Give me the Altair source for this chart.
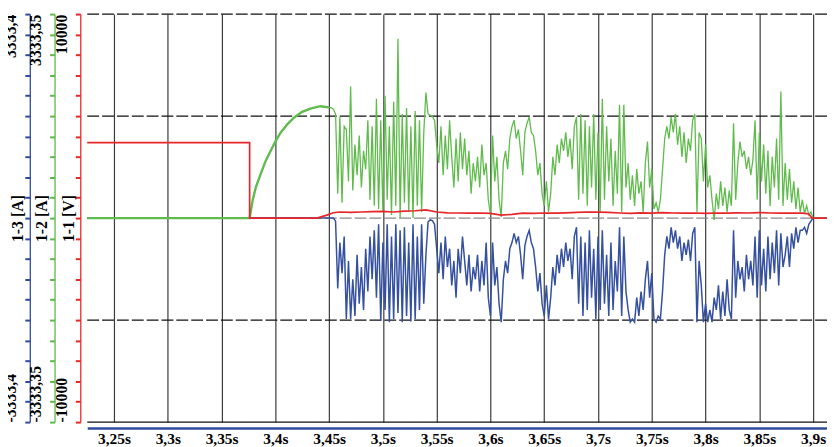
import altair as alt
import pandas as pd

SERIF = "Liberation Serif"
BLUE = "#34509f"
GREEN = "#5fbb4b"
RED = "#e8262a"
BLUE_AXIS = "#2f4a9c"
GREEN_AXIS = "#5cb84a"
RED_AXIS = "#e82828"

# ---- axes ----
X_DOMAIN = [3.2251, 3.9129]
X_TICKS = [3.25, 3.3, 3.35, 3.4, 3.45, 3.5, 3.55, 3.6, 3.65, 3.7, 3.75, 3.8, 3.85, 3.9]

RED_RANGE = 10000.0      # 1-1 [V]
GREEN_RANGE = 3333.35    # 1-2 [A]
BLUE_RANGE = 3333.4      # 1-3 [A]

DASHED_LEVELS = [10000, 5000, -5000]
CENTER_LEVELS = [0]
SOLID_LEVELS = [-10000]

# ---- 1-1 [V] (red) ----
RED_T = [3.2251, 3.3761, 3.3761, 3.4387, 3.4479, 3.454, 3.46, 3.47, 3.48, 3.49,
         3.50, 3.51, 3.52, 3.53, 3.54, 3.55, 3.56, 3.57, 3.58, 3.59,
         3.60, 3.61, 3.62, 3.63, 3.64, 3.65, 3.66, 3.67, 3.68, 3.69,
         3.70, 3.71, 3.72, 3.73, 3.74, 3.75, 3.76, 3.77, 3.78, 3.79,
         3.80, 3.81, 3.82, 3.83, 3.84, 3.85, 3.86, 3.87, 3.88, 3.89,
         3.896, 3.899, 3.9129]
RED_V = [3700, 3700, 0, 0, 145, 260, 300, 280, 300, 320,
         330, 300, 340, 360, 400, 300, 260, 250, 240, 250,
         230, 150, 180, 240, 230, 250, 240, 260, 280, 300,
         290, 280, 250, 230, 260, 240, 270, 250, 240, 250,
         230, 250, 240, 260, 250, 270, 250, 240, 250, 240,
         200, 0, 0]

# ---- 1-2 [A] (green) : charge curve ----
GREEN_RISE_T = [3.2251, 3.3761, 3.3789, 3.3819, 3.3865, 3.3911, 3.3957, 3.4003,
                3.4049, 3.4111, 3.4173, 3.4249, 3.4326, 3.4418, 3.45]
GREEN_RISE_V = [0, 0, 291, 506, 728, 938, 1100, 1262,
                1396, 1532, 1640, 1737, 1790, 1828, 1810]

# ---- sampled part, start 3.45 s, one sample every 2 ms ----
NOISY_T0 = 3.45
NOISY_DT = 0.002
GREEN_NOISY_V = [
    1810, 1800, 1780, 1700,
    400, 1650, 250, 1500,
    1450, 600, 2150, 450, 1200, 700, 1350, 500, 1100, 800,
    1600, 300, 1500, 200,
    1950, 150, 1600, 100, 2000, 300, 1500, 50, 1900, 200,
    2930, 0, 1700, 250, 1800, 100, 1500, 0, 1750, 200, 1600, 100, 1400,
    2050, 1700, 1680, 1660, 1600, 1200,
    900, 1500, 700, 1350, 800, 1600,
    1000, 500, 1300, 600, 1400, 800, 1300, 700, 1100, 400,
    900, 600, 1000, 500, 1200, 700, 900, 300, 50, 1350,
    600, 1000, 300, 20,
    900, 1100, 800, 1300, 1500, 1600, 1300, 1450, 1100, 700, 1400, 1550, 1650, 1400, 1350,
    1100, 700, 900, 400, 200, 600, 100,
    400, 1000, 700, 1200, 900, 1300, 1100, 1400, 1000, 1300, 800, 1500, 1650,
    300, 1700, 400, 1600, 200, 1500, 500, 1700, 300, 1400, 100, 1950, 300, 1500, 600,
    1300, 200, 1100, 400, 1850, 100, 1850, 500,
    900, 300, 700, 200, 800, 400, 600, 100, 900, 1250, 500, 800,
    150, 250, 100, 300,
    800, 1300, 1500, 1300, 1650, 1400, 1700,
    1200, 1500, 1000, 1400, 900, 1300, 1100, 1600, 1700, 100, 1400,
    1300, 600, 1200, 500, 700, 300, -30,
    400, 150, 600, 200, 500, 100, 450, 200,
    1550, 300,
    900, 1250, 1000, 1100, 800, 1000, 700, 950, 1600,
    300, 1400, 600, 1200, 400, 1100, 200, 1000, 500, 1300, 300, 2070, 200,
    900, 300, 800, 250, 600, 150, 500, 100,
    300, 80, 200, 50, 100, 0,
    0, 0, 0, 0, 0, 0,
]

# ---- 1-3 [A] (blue) ----
BLUE_PRE_T = [3.2251, 3.44]
BLUE_PRE_V = [0, 0]
BLUE_NOISY_V = [
    0, 0, 0, -50,
    -1150, -400, -900, -300,
    -1650, -700, -1650, -1000, -1600, -600, -1400, -800, -1500, -500,
    -1200, -300, -1000, -200,
    -1300, -100, -1680, -400, -1500, -100, -1700, -300, -1650, -100,
    -1550, -200, -1700, -150, -1600, -400, -1690, -100, -1650, -300, -1500, -100, -1400,
    -600, -60, -30, -40, -100, -500,
    -900, -400, -1000, -300, -800, -500,
    -1100, -700, -1300, -500, -900, -300, -700, -1100, -600, -1200,
    -800, -1000, -600, -1200, -700, -1100, -400, -1300, -1600, -400,
    -1100, -800, -1400, -1700,
    -1000, -700, -900, -500, -400, -250, -400, -300, -600, -1000, -450, -300, -200, -400, -500,
    -800, -1200, -900, -1400, -1600, -1100, -1650,
    -1300, -800, -1100, -600, -900, -500, -800, -400, -700, -500, -1000, -300, -150,
    -1400, -300, -1600, -400, -1500, -200, -1300, -500, -1650, -300, -1500, -200, -1400, -600,
    -1600, -400, -1500, -700, -1200, -150, -1600, -300, -1200,
    -1500, -1700, -1650, -1700, -1300, -1600, -1200, -1500, -1000, -700, -1300, -900,
    -1650, -1700, -1600, -1650,
    -1200, -600, -300, -500, -150, -400, -200,
    -500, -300, -700, -400, -600, -350, -700, -250, -150, -1700, -700,
    -1100, -1700, -1400, -1700, -1500, -1700, -1300,
    -1500, -1100, -1650, -1200, -1600, -1000, -1500, -1650,
    -200, -1300,
    -700, -1000, -800, -1200, -600, -1000, -700, -1100,
    -300, -1300, -200, -1100, -500, -1200, -300, -1000, -400, -900, -200, -1100, -250, -800,
    -600, -300, -800, -250, -500, -150, -400, -200,
    -200, -150, -250, -100, -50, 0,
    0, 0, 0, 0, 0, 0,
]

n = min(len(GREEN_NOISY_V), len(BLUE_NOISY_V))
noisy_t = [round(NOISY_T0 + i * NOISY_DT, 4) for i in range(n)]

red_df = pd.DataFrame({"t": RED_T, "v": RED_V, "i": range(len(RED_T))})
green_df = pd.concat([
    pd.DataFrame({"t": GREEN_RISE_T, "v": GREEN_RISE_V, "seg": "rise"}),
    pd.DataFrame({"t": noisy_t, "v": GREEN_NOISY_V[:n], "seg": "noisy"}),
], ignore_index=True)
green_df["i"] = range(len(green_df))
blue_df = pd.concat([
    pd.DataFrame({"t": BLUE_PRE_T, "v": BLUE_PRE_V}),
    pd.DataFrame({"t": noisy_t, "v": BLUE_NOISY_V[:n]}),
], ignore_index=True)
blue_df["i"] = range(len(blue_df))


def tick_values(limit):
    return [round(-limit + k * limit / 10, 4) for k in range(21)]


x_scale = alt.Scale(domain=X_DOMAIN, nice=False, zero=False)
x_axis = alt.Axis(
    orient="bottom", values=X_TICKS, offset=6,
    labelExpr="replace(format(datum.value, '.2~f'), '.', ',') + 's'",
    domainColor="#2f4d9e", domainWidth=2.5, ticks=False,
    labelPadding=4, labelFont=SERIF, labelFontWeight="bold", labelFontSize=15.5,
    labelColor="black", labelFlush=False, labelOverlap=False,
    grid=True, gridColor="#3a3a3a", gridWidth=1.2, title=None,
)


def label_axis(limit, pos_label, neg_label, title, color, offset, title_x):
    expr = (f"datum.value > {limit * 0.99} ? '{pos_label}' : "
            f"(datum.value < {-limit * 0.99} ? '{neg_label}' : '')")
    return alt.Axis(
        orient="left", offset=offset, values=tick_values(limit), labelExpr=expr,
        labelAngle=270,
        labelAlign={"condition": {"test": "datum.value > 0", "value": "right"}, "value": "left"},
        labelPadding=6,
        labelFont=SERIF, labelFontWeight="bold", labelFontSize=16, labelColor="black",
        ticks=True, tickColor=color, tickSize=5, tickWidth=2,
        domainColor=color, domainWidth=1.3,
        grid=False, title=title, titleFont=SERIF, titleFontWeight="bold",
        titleFontSize=16, titleColor="black", titleAngle=270, titleX=title_x,
        titleY=206, titleAlign="center", titleBaseline="middle",
    )


def y_scale(limit):
    return alt.Scale(domain=[-limit, limit], nice=False, zero=False)


def level_rules(levels, color, dash):
    return alt.Chart(pd.DataFrame({"level": levels})).mark_rule(
        color=color, strokeWidth=1.1, strokeDash=dash
    ).encode(y=alt.Y("level:Q", scale=y_scale(RED_RANGE), axis=None))


grid_dashed = level_rules(DASHED_LEVELS, "#111111", [12, 3])
grid_center = level_rules(CENTER_LEVELS, "#8a8a8a", [12, 3])
grid_solid = level_rules(SOLID_LEVELS, "#111111", [1, 0])

blue = alt.Chart(blue_df).mark_line(color=BLUE, strokeWidth=1.5).encode(
    x=alt.X("t:Q", scale=x_scale, axis=x_axis),
    y=alt.Y("v:Q", scale=y_scale(BLUE_RANGE),
            axis=label_axis(BLUE_RANGE, "3333,4", "-3333,4", "1-3 [A]", BLUE_AXIS, 58, -12)),
    order="i:Q",
)

green = alt.Chart(green_df).mark_line(color=GREEN).encode(
    x=alt.X("t:Q", scale=x_scale, axis=x_axis),
    y=alt.Y("v:Q", scale=y_scale(GREEN_RANGE),
            axis=label_axis(GREEN_RANGE, "3333,35", "-3333,35", "1-2 [A]", GREEN_AXIS, 33, -13)),
    detail="seg:N",
    strokeWidth=alt.StrokeWidth("seg:N", scale=alt.Scale(domain=["rise", "noisy"], range=[2.4, 1.3]), legend=None),
    order="i:Q",
)

red = alt.Chart(red_df).mark_line(color=RED, strokeWidth=1.7).encode(
    x=alt.X("t:Q", scale=x_scale, axis=x_axis),
    y=alt.Y("v:Q", scale=y_scale(RED_RANGE),
            axis=label_axis(RED_RANGE, "10000", "-10000", "1-1 [V]", RED_AXIS, 7, -12)),
    order="i:Q",
)

chart = (
    alt.layer(grid_dashed, grid_center, grid_solid, blue, green, red)
    .resolve_scale(y="independent", strokeWidth="independent")
    .resolve_axis(y="independent")
    .properties(width=747, height=412,
                padding={"left": 80, "top": 4, "right": 0, "bottom": 23},
                autosize=alt.AutoSizeParams(type="none"))
    .configure_view(stroke=None)
)

chart.save("out.html", embed_options={"renderer": "svg", "actions": False})
